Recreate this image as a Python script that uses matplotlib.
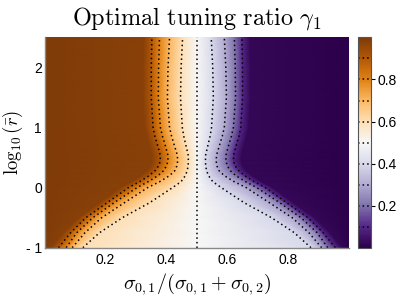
import numpy as np
import matplotlib.pyplot as plt

plt.rcParams['mathtext.fontset'] = 'cm'
plt.rcParams['font.family'] = ['Liberation Sans', 'DejaVu Sans']

y_rows = [-1.0, -0.75, -0.5, -0.25, 0.0, 0.1, 0.2, 0.28, 0.36, 0.45, 0.55,
          0.7, 0.85, 1.0, 1.5, 2.0, 2.5]

# x position (sigma ratio) of each gamma level on the left half, per row
x_098 = [0.022, 0.062, 0.112, 0.182, 0.250, 0.287, 0.318, 0.337, 0.349, 0.354, 0.353,
         0.345, 0.336, 0.330, 0.324, 0.324, 0.326]
x_090 = [0.045, 0.085, 0.135, 0.205, 0.275, 0.312, 0.343, 0.362, 0.374, 0.380, 0.379,
         0.371, 0.362, 0.356, 0.350, 0.350, 0.352]
x_080 = [0.070, 0.105, 0.158, 0.228, 0.303, 0.340, 0.372, 0.390, 0.400, 0.405, 0.404,
         0.396, 0.387, 0.380, 0.373, 0.374, 0.377]
x_070 = [0.090, 0.132, 0.187, 0.262, 0.338, 0.378, 0.410, 0.427, 0.434, 0.437, 0.435,
         0.426, 0.417, 0.410, 0.403, 0.405, 0.410]
x_060 = [0.125, 0.180, 0.255, 0.345, 0.420, 0.448, 0.462, 0.468, 0.471, 0.472, 0.471,
         0.464, 0.457, 0.452, 0.446, 0.448, 0.453]

left_levels = [1.0, 0.98, 0.9, 0.8, 0.7, 0.6]
contour_levels = [0.1, 0.2, 0.3, 0.4, 0.5, 0.6, 0.7, 0.8, 0.9]

n = len(y_rows)
left_cols = [np.zeros(n), np.array(x_098), np.array(x_090),
             np.array(x_080), np.array(x_070), np.array(x_060)]
# map is antisymmetric: gamma(1-x) = 1 - gamma(x)
cols = left_cols + [np.full(n, 0.5)] + [1 - c for c in left_cols[::-1]]
vals = left_levels + [0.5] + [round(1 - v, 2) for v in left_levels[::-1]]

X = np.column_stack(cols)
Y = np.repeat(np.array(y_rows)[:, None], X.shape[1], axis=1)
C = np.tile(vals, (n, 1))

dots = (0, (1, 2))

fig = plt.figure(figsize=(4.15, 2.97), dpi=100)
ax = fig.add_axes([0.108, 0.166, 0.733, 0.708])

mesh = ax.pcolormesh(X, Y, C, shading='gouraud', cmap='PuOr_r', vmin=0, vmax=1)
cs = ax.contour(X, Y, C, levels=contour_levels, colors='black',
                linestyles=[dots], linewidths=1.1)

ax.set_xlim(0, 1)
ax.set_ylim(-1, 2.5)
ax.set_xticks([0.2, 0.4, 0.6, 0.8])
ax.set_xticklabels(['0.2', '0.4', '0.6', '0.8'])
ax.set_yticks([-1, 0, 1, 2])
ax.set_yticklabels(['- 1', '0', '1', '2'])
ax.tick_params(length=0, labelsize=10)
ax.tick_params(axis='y', pad=2)
ax.tick_params(axis='x', pad=4)
for s in ['top', 'right']:
    ax.spines[s].set_visible(False)
for s in ['left', 'bottom']:
    ax.spines[s].set_color('#888888')
    ax.spines[s].set_linewidth(1.0)

ax.set_title(r'$\mathrm{Optimal\ tuning\ ratio}\ \gamma_1$', fontsize=17.5, pad=9)
ax.set_xlabel(r'$\sigma_{0,1}/(\sigma_{0,1}+\sigma_{0,2})$', fontsize=14.5, labelpad=3)
ax.set_ylabel(r'$\log_{10}(\bar{r})$', fontsize=13.5, labelpad=1)

cax = fig.add_axes([0.863, 0.166, 0.031, 0.708])
cbar = fig.colorbar(mesh, cax=cax, ticks=[0.2, 0.4, 0.6, 0.8])
cbar.add_lines(cs)
for lc in cbar.lines:
    lc.set_linestyle(dots)
    lc.set_linewidth(1.1)
cbar.outline.set_edgecolor('#555555')
cbar.outline.set_linewidth(0.8)
cax.tick_params(length=3, width=0.8, labelsize=10, pad=2)

fig.savefig('out.png', dpi=100)
